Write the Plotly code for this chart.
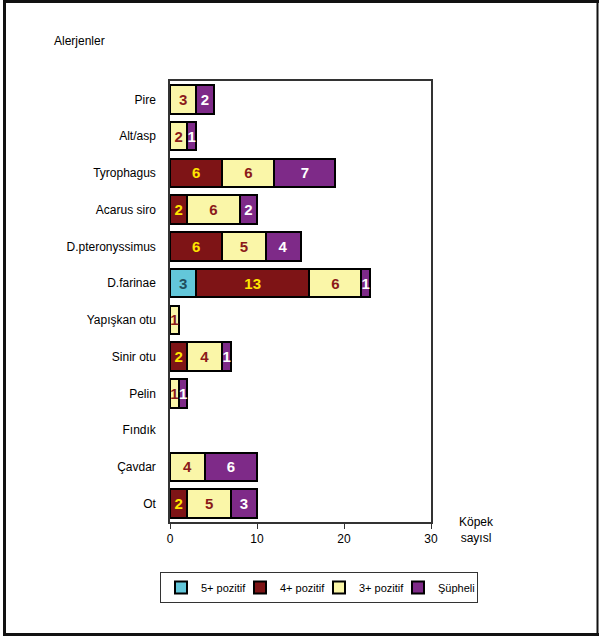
import plotly.graph_objects as go

# Categories from bottom to top
allergens = ["Ot", "Çavdar", "Fındık", "Pelin", "Sinir otu", "Yapışkan otu",
             "D.farinae", "D.pteronyssimus", "Acarus siro", "Tyrophagus", "Alt/asp", "Pire"]
pos5 = [0, 0, 0, 0, 0, 0, 3, 0, 0, 0, 0, 0]
pos4 = [2, 0, 0, 0, 2, 0, 13, 6, 2, 6, 0, 0]
pos3 = [5, 4, 0, 1, 4, 1, 6, 5, 6, 6, 2, 3]
suph = [3, 6, 0, 1, 1, 0, 1, 4, 2, 7, 1, 2]

series = [
    ("5+ pozitif", pos5, "#63C7DA", "#1F4F5E"),
    ("4+ pozitif", pos4, "#7E1416", "#FFE400"),
    ("3+ pozitif", pos3, "#FAF6A8", "#8B1A1A"),
    ("Şüpheli", suph, "#7E2A88", "#FFFFFF"),
]

W, H = 599, 637
L, R, T, B = 170, 168, 81, 115
pw, ph = W - L - R, H - T - B

def px(x):
    return (x - L) / pw

def py(y):
    return (H - B - y) / ph

fig = go.Figure()
for name, vals, col, tcol in series:
    fig.add_trace(go.Bar(
        y=allergens, x=[v if v else None for v in vals], name=name, orientation="h",
        marker=dict(color=col, line=dict(color="#000000", width=2)),
        text=[str(v) if v else "" for v in vals],
        textposition="inside", insidetextanchor="middle",
        constraintext="none", cliponaxis=False,
        textfont=dict(color=tcol, size=15, family="Liberation Sans, Arial", weight="bold"),
    ))

fig.update_layout(
    width=W, height=H,
    margin=dict(l=L, r=R, t=T, b=B),
    barmode="stack", bargap=0.22,
    paper_bgcolor="white", plot_bgcolor="white",
    font=dict(family="Liberation Sans, Arial", size=12, color="#000000"),
    showlegend=True,
    legend=dict(orientation="h", x=px(160), y=py(572), xanchor="left", yanchor="top",
                bordercolor="#333333", borderwidth=1, bgcolor="white",
                font=dict(size=11), entrywidth=34, itemwidth=30, traceorder="normal"),
    xaxis=dict(range=[0, 30], tickvals=[0, 10, 20, 30], ticks="outside", ticklen=5,
               tickcolor="#333333", showgrid=False, zeroline=False,
               showline=True, linecolor="#333333", linewidth=1.5, mirror=True,
               tickfont=dict(size=12)),
    yaxis=dict(categoryorder="array", categoryarray=allergens, ticks="",
               showgrid=False, showline=True, linecolor="#333333", linewidth=1.5,
               mirror=True, ticklabelstandoff=10, tickfont=dict(size=12)),
    annotations=[
        dict(text="Alerjenler", x=px(52), y=py(41), xref="paper", yref="paper",
             xanchor="left", yanchor="middle", showarrow=False, font=dict(size=12)),
        dict(text="Köpek<br>sayısl", x=px(476), y=py(530), xref="paper", yref="paper",
             xanchor="center", yanchor="middle", showarrow=False, font=dict(size=12)),
    ],
    shapes=[
        dict(type="line", xref="paper", yref="paper", x0=px(4.5), x1=px(4.5), y0=py(0), y1=py(636),
             line=dict(color="#111111", width=3)),
        dict(type="line", xref="paper", yref="paper", x0=px(3), x1=px(599), y0=py(1.5), y1=py(1.5),
             line=dict(color="#111111", width=3)),
        dict(type="line", xref="paper", yref="paper", x0=px(3), x1=px(599), y0=py(634.5), y1=py(634.5),
             line=dict(color="#111111", width=3)),
        dict(type="line", xref="paper", yref="paper", x0=px(597.5), x1=px(597.5), y0=py(0), y1=py(636),
             line=dict(color="#111111", width=2)),
    ],
)

fig.write_html("out.html", config={"displayModeBar": False},
               post_script="document.body.style.margin='0';document.body.style.overflow='hidden';")
